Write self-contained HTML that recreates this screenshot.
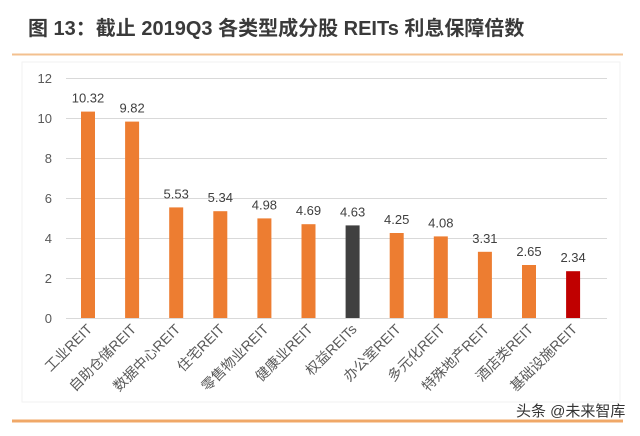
<!DOCTYPE html>
<html><head><meta charset="utf-8"><style>
body{margin:0;background:#fff;width:640px;height:431px;overflow:hidden}
svg text{font-family:"Liberation Sans","Noto Sans CJK SC",sans-serif}
</style></head><body>
<svg width="640" height="431" viewBox="0 0 640 431">
<text x="28" y="35" font-size="20" font-weight="bold" fill="#3a3a3a">图 13：截止 2019Q3 各类型成分股 REITs 利息保障倍数</text>
<line x1="12" y1="54.5" x2="623" y2="54.5" stroke="#f3c08f" stroke-width="2"/>
<rect x="22" y="62" width="598" height="340" fill="#fff" stroke="#f2f2f2"/>
<g stroke="#d9d9d9" stroke-width="1">
<line x1="66" y1="78.5" x2="607" y2="78.5"/><line x1="66" y1="118.5" x2="607" y2="118.5"/>
<line x1="66" y1="158.5" x2="607" y2="158.5"/><line x1="66" y1="198.5" x2="607" y2="198.5"/>
<line x1="66" y1="238.5" x2="607" y2="238.5"/><line x1="66" y1="278.5" x2="607" y2="278.5"/>
<line x1="66" y1="318.5" x2="607" y2="318.5"/>
</g>
<g font-size="13" fill="#595959" text-anchor="end">
<text x="52" y="83">12</text><text x="52" y="123">10</text><text x="52" y="163">8</text>
<text x="52" y="203">6</text><text x="52" y="243">4</text><text x="52" y="283">2</text><text x="52" y="323">0</text>
</g>
<g fill="#ed7d31">
<rect x="81" y="111.6" width="14" height="206.4"/>
<rect x="125.1" y="121.6" width="14" height="196.4"/>
<rect x="169.2" y="207.4" width="14" height="110.6"/>
<rect x="213.3" y="211.2" width="14" height="106.8"/>
<rect x="257.4" y="218.4" width="14" height="99.6"/>
<rect x="301.5" y="224.2" width="14" height="93.8"/>
<rect x="345.6" y="225.4" width="14" height="92.6" fill="#404040"/>
<rect x="389.7" y="233" width="14" height="85"/>
<rect x="433.8" y="236.4" width="14" height="81.6"/>
<rect x="477.9" y="251.8" width="14" height="66.2"/>
<rect x="522" y="265" width="14" height="53"/>
<rect x="566.1" y="271.2" width="14" height="46.8" fill="#c00000"/>
</g>
<g font-size="13" fill="#404040" text-anchor="middle">
<text x="88" y="102.6">10.32</text>
<text x="132.1" y="112.6">9.82</text>
<text x="176.2" y="198.4">5.53</text>
<text x="220.3" y="202.2">5.34</text>
<text x="264.4" y="209.4">4.98</text>
<text x="308.5" y="215.2">4.69</text>
<text x="352.6" y="216.4">4.63</text>
<text x="396.7" y="224">4.25</text>
<text x="440.8" y="227.4">4.08</text>
<text x="484.9" y="242.8">3.31</text>
<text x="529" y="256">2.65</text>
<text x="573.1" y="262.2">2.34</text>
</g>
<g font-size="14" fill="#595959" text-anchor="end">
<text transform="translate(93,330) rotate(-45)">工业REIT</text>
<text transform="translate(137.1,330) rotate(-45)">自助仓储REIT</text>
<text transform="translate(181.2,330) rotate(-45)">数据中心REIT</text>
<text transform="translate(225.3,330) rotate(-45)">住宅REIT</text>
<text transform="translate(269.4,330) rotate(-45)">零售物业REIT</text>
<text transform="translate(313.5,330) rotate(-45)">健康业REIT</text>
<text transform="translate(357.6,330) rotate(-45)">权益REITs</text>
<text transform="translate(401.7,330) rotate(-45)">办公室REIT</text>
<text transform="translate(445.8,330) rotate(-45)">多元化REIT</text>
<text transform="translate(489.9,330) rotate(-45)">特殊地产REIT</text>
<text transform="translate(534,330) rotate(-45)">酒店类REIT</text>
<text transform="translate(578.1,330) rotate(-45)">基础设施REIT</text>
</g>
<text x="516" y="416" font-size="15" fill="#333">头条 @未来智库</text>
<line x1="12" y1="421" x2="623" y2="421" stroke="#f0a868" stroke-width="3"/>
</svg>
</body></html>
